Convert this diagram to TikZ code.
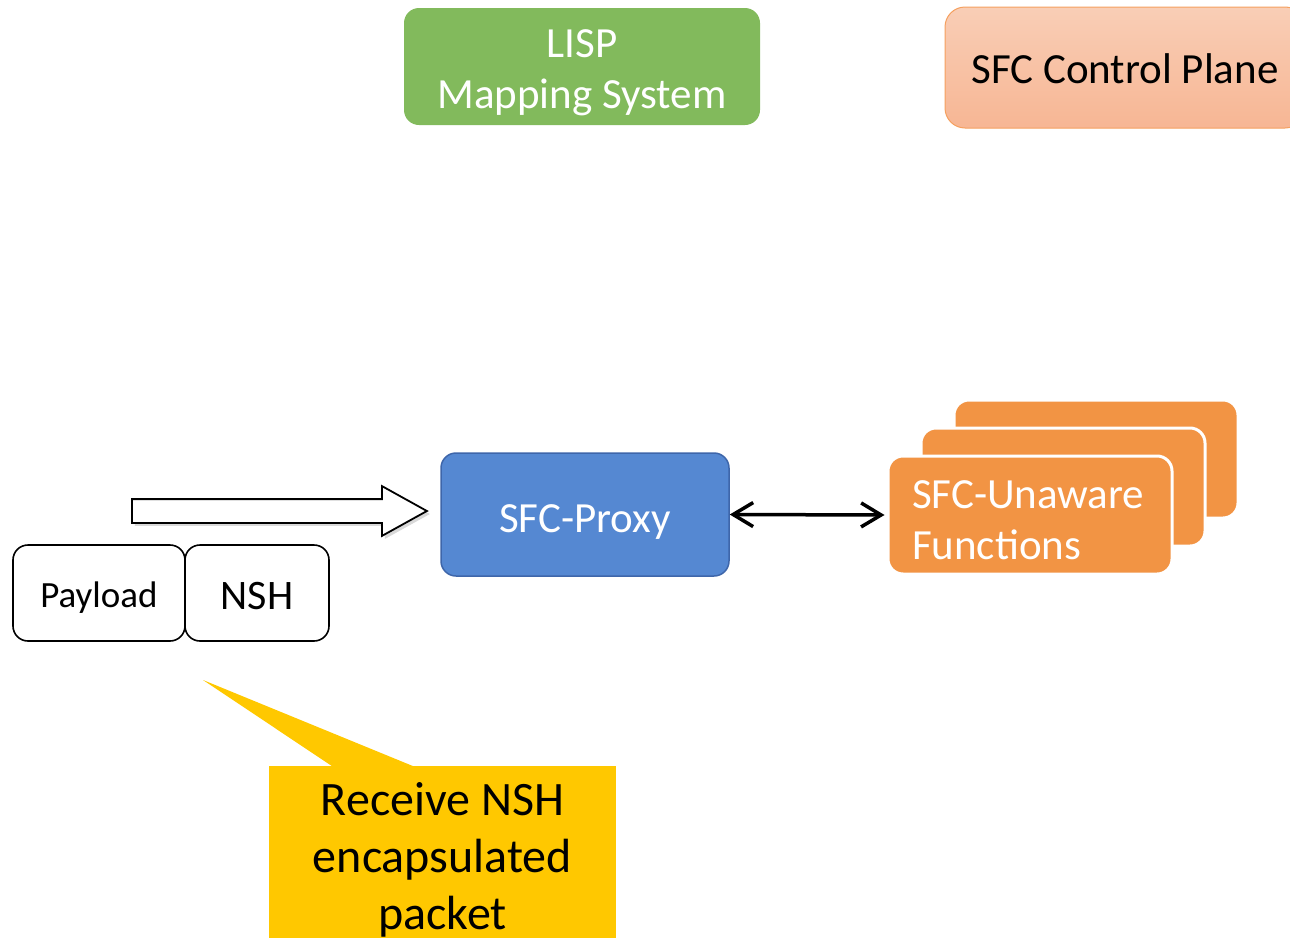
\documentclass[tikz,border=0pt]{standalone}
\usepackage{fontspec}
\setmainfont{Carlito}
\usetikzlibrary{arrows.meta,shapes.arrows,shadows}

\definecolor{lispgreen}{RGB}{130,186,92}
\definecolor{proxyblue}{RGB}{85,136,210}
\definecolor{proxyline}{RGB}{62,102,170}
\definecolor{sfuorange}{RGB}{242,148,68}
\definecolor{cptop}{RGB}{249,206,182}
\definecolor{cpbottom}{RGB}{247,182,148}
\definecolor{cpline}{RGB}{245,160,95}
\definecolor{noteyellow}{RGB}{255,200,0}

\begin{document}
\begin{tikzpicture}[x=1pt,y=-1pt]
    \tikzset{box/.style={rounded corners=15pt, inner sep=0pt, font=\fontsize{43}{51}\selectfont}}
    \tikzset{sfubox/.style={box, fill=sfuorange, draw=white, line width=3pt,
                            minimum width=284pt, minimum height=118pt}}
    \tikzset{pktbox/.style={box, draw=black, line width=1.6pt, minimum height=96pt}}
    \useasboundingbox (0,0) rectangle (1290,937);

    % control planes
    \node[box, fill=lispgreen, text=white, align=center, minimum width=356pt, minimum height=117pt,
          text height=83pt, text depth=0pt] (lisp) at (582,66.5) {LISP\\Mapping System};
    \node[box, rounded corners=20pt, top color=cptop, bottom color=cpbottom, draw=cpline, line width=1pt,
          minimum width=360pt, minimum height=121pt, text height=31pt, text depth=0pt] (cp) at (1125,67.5) {SFC Control Plane};

    % proxy and functions
    \node[box, fill=proxyblue, draw=proxyline, line width=1.5pt, text=white, minimum width=288pt, minimum height=123pt,
          text height=35pt, text depth=0pt] (proxy) at (585,514.5) {SFC-Proxy};
    \node[sfubox] (sfuback) at (1096,459) {};
    \node[sfubox] (sfumid) at (1063,487) {};
    \node[sfubox, text=white, align=left, text width=236pt, inner xsep=24pt, font=\fontsize{43}{51}\selectfont,
          text height=34pt, text depth=47pt] (sfu) at (1030,515) {SFC-Unaware\\Functions};
    \draw[{Straight Barb[length=20pt,width=24pt]}-{Straight Barb[length=20pt,width=24pt]}, line width=3.5pt,
          shorten <=0pt, shorten >=2pt] (proxy.east) -- (sfu.west);

    % packet
    \node[single arrow, draw=black, fill=white, line width=1.8pt, inner sep=0pt, text height=22pt, text depth=0pt,
          minimum height=295pt, minimum width=48pt, single arrow head extend=13pt, single arrow tip angle=58,
          drop shadow={shadow xshift=3pt, shadow yshift=-3pt, opacity=0.3}, anchor=tail] (pktarrow) at (131,511) {};
    \node[pktbox, minimum width=172pt, font=\fontsize{37}{44}\selectfont, text height=28pt, text depth=0pt]
          (payload) at (99,593) {Payload};
    \node[pktbox, minimum width=144pt, font=\fontsize{42}{48}\selectfont, text height=32pt, text depth=0pt]
          (nsh) at (257,593) {NSH};

    % callout
    \node[fill=noteyellow, inner sep=0pt, align=center, anchor=north, minimum width=347pt, minimum height=173pt,
          font=\fontsize{48}{57}\selectfont, text height=163pt, text depth=10pt] (note) at (442.5,766)
          {Receive NSH\\encapsulated\\packet};
    \coordinate (notetip) at (203,680);
    \fill[noteyellow] (notetip) -- ([xshift=63pt]note.north west) -- ([xshift=144pt]note.north west) -- cycle;
\end{tikzpicture}
\end{document}
